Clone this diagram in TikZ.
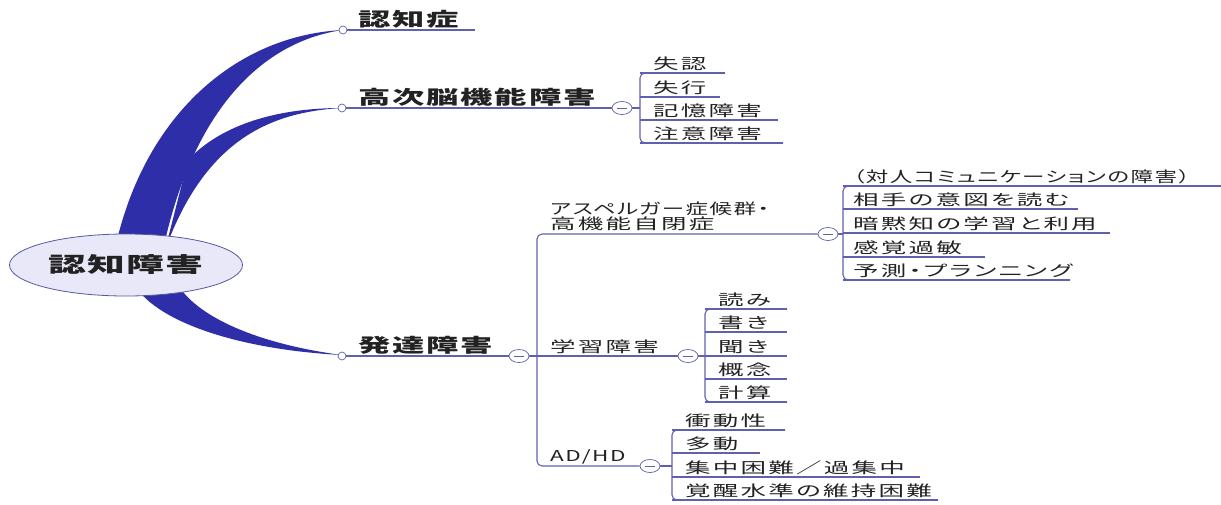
\documentclass[tikz,border=0pt]{standalone}
\usepackage{fontspec}
\usetikzlibrary{shapes.geometric}
\newfontfamily\hubfont[FakeStretch=1.8,LetterSpace=5]{Noto Sans CJK JP}
\newfontfamily\topicfont[FakeStretch=1.7,LetterSpace=10]{Noto Sans CJK JP}
\newfontfamily\subfont[FakeStretch=1.7,LetterSpace=15,RawFeature=+palt]{Noto Sans CJK JP}
\newfontfamily\kanafont[FakeStretch=1.5,LetterSpace=10,RawFeature=+palt]{Noto Sans CJK JP}
\definecolor{branch}{RGB}{46,46,168}
\definecolor{linecol}{RGB}{96,96,176}
\definecolor{hubfill}{RGB}{232,232,248}
\definecolor{hubline}{RGB}{88,88,160}
\definecolor{ink}{RGB}{34,34,34}
\begin{document}
\begin{tikzpicture}[x=1pt, y=-1pt,
  hub/.style={ellipse, draw=hubline, fill=hubfill, line width=0.8pt,
    minimum width=233pt, minimum height=62pt, inner sep=0pt,
    font=\hubfont\bfseries\fontsize{21}{24}\selectfont, text=ink},
  topic/.style={anchor=base west, inner sep=0pt,
    font=\topicfont\bfseries\fontsize{19}{22}\selectfont, text=ink},
  sub/.style={anchor=base west, inner sep=0pt,
    font=\subfont\fontsize{15}{15.5}\selectfont, text=ink},
  knob/.style={circle, draw=linecol, fill=white, line width=0.7pt,
    minimum size=8pt, inner sep=0pt},
  fold/.style={ellipse, draw=linecol, fill=white, line width=0.7pt,
    minimum width=20pt, minimum height=13pt, inner sep=0pt,
    path picture={\draw[linecol, line width=0.7pt]
      ([xshift=-5pt]path picture bounding box.center) --
      ([xshift=5pt]path picture bounding box.center);}},
  wire/.style={draw=linecol, line width=1.1pt},
  brace/.style={wire, rounded corners=5pt}
]
\useasboundingbox (0,0) rectangle (1221,504);

\fill[branch] (118,250) -- (118,236) .. controls (150,110) and (240,35) .. (343,30)
  .. controls (270,40) and (195,100) .. (163,250) -- cycle;
\fill[branch] (188,160) .. controls (218,128) and (270,108) .. (342,108)
  .. controls (270,112) and (205,140) .. (165,250) -- cycle;
\fill[branch] (138,290) .. controls (165,325) and (245,350) .. (342,355)
  .. controls (265,345) and (200,320) .. (178,285) -- cycle;
\node[hub] (root) at (126,265) {認知障害};

\node[knob] (k1) at (343,30) {};
\node[knob] (k2) at (342,108) {};
\node[knob] (k3) at (342,356) {};
\node[topic] (t1) at (358,26) {認知症};
\node[topic] (t2) at (358,104) {高次脳機能障害};
\node[topic] (t3) at (358,352) {発達障害};
\coordinate (e1) at (475,30);
\draw[wire] (k1) -- (e1);

\node[fold] (f1) at (622,108) {};
\draw[wire] (k2) -- (f1);
\coordinate (hb) at (640,108);
\draw[wire] (f1) -- (hb);
\foreach \y/\len/\txt [count=\i] in {73/725/失認, 97/720/失行,
    120/778/記憶障害, 143/783/注意障害} {
  \node[sub] (h\i) at (653,\y-4) {\txt};
  \coordinate (hl\i) at (640,\y);
  \coordinate (hr\i) at (\len,\y);
  \draw[wire] (hl\i) -- (hr\i);
}
\draw[brace] (hr1) -- (hl1) -- (hl4) -- (hr4);

\node[fold] (f3) at (519,356) {};
\draw[wire] (k3) -- (f3);
\coordinate (dl1) at (537,234);
\coordinate (dl2) at (537,356);
\coordinate (dl3) at (537,466);
\draw[wire] (f3) -- (dl2);
\node[fold] (f2) at (828,234) {};
\node[fold] (f4) at (688,356) {};
\node[fold] (f5) at (650,466) {};
\draw[brace] (f2) -- (dl1) -- (dl3) -- (f5);
\draw[wire] (dl2) -- (f4);
\node[sub, anchor=south west, align=left] (asp) at (550,231)
  {{\kanafont アスペルガー症候群・}\\高機能自閉症};
\node[sub] (ld) at (550,352) {学習障害};
\node[sub] (adhd) at (550,461) {\kanafont AD/HD};

\coordinate (ab) at (843,234);
\draw[wire] (f2) -- (ab);
\foreach \y/\len/\txt [count=\i] in {186/1221/{\kanafont（対人コミュニケーションの障害）},
    209/1078/相手の意図を読む, 233/1110/暗黙知の学習と利用,
    257/985/感覚過敏, 280/1070/予測・プランニング} {
  \node[sub] (a\i) at (853,\y-4) {\txt};
  \coordinate (al\i) at (843,\y);
  \coordinate (ar\i) at (\len,\y);
  \draw[wire] (al\i) -- (ar\i);
}
\draw[brace] (ar1) -- (al1) -- (al5) -- (ar5);

\coordinate (lb) at (705,356);
\draw[wire] (f4) -- (lb);
\foreach \y/\len/\txt [count=\i] in {309/787/読み, 332/787/書き,
    356/787/聞き, 379/787/概念, 402/787/計算} {
  \node[sub] (l\i) at (718,\y-4) {\txt};
  \coordinate (ll\i) at (705,\y);
  \coordinate (lr\i) at (\len,\y);
  \draw[wire] (ll\i) -- (lr\i);
}
\draw[brace] (lr1) -- (ll1) -- (ll5) -- (lr5);

\coordinate (xb) at (672,466);
\draw[wire] (f5) -- (xb);
\foreach \y/\len/\txt [count=\i] in {430/785/衝動性, 453/760/多動,
    477/920/集中困難／過集中, 500/938/覚醒水準の維持困難} {
  \node[sub] (x\i) at (685,\y-4) {\txt};
  \coordinate (xl\i) at (672,\y);
  \coordinate (xr\i) at (\len,\y);
  \draw[wire] (xl\i) -- (xr\i);
}
\draw[brace] (xr1) -- (xl1) -- (xl4) -- (xr4);
\end{tikzpicture}
\end{document}
